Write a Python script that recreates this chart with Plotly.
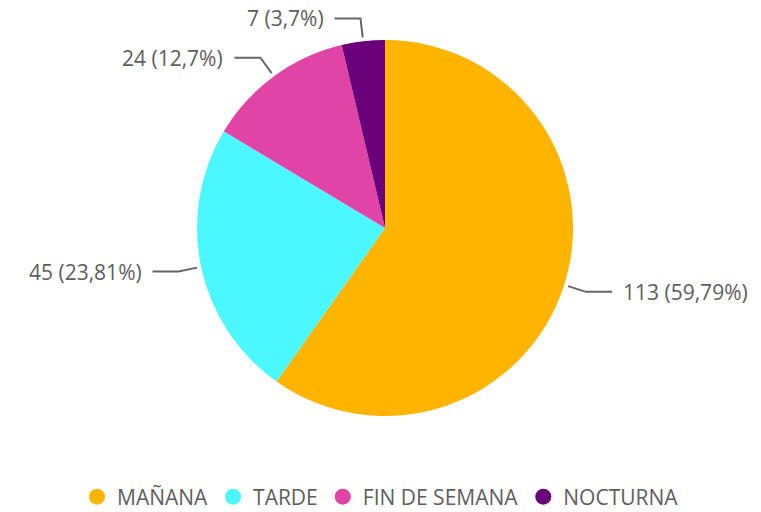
import math
import plotly.graph_objects as go

categories = ["MAÑANA", "TARDE", "FIN DE SEMANA", "NOCTURNA"]
values = [113, 45, 24, 7]
colors = ["#FFB400", "#4BF8FF", "#E044A7", "#6B007B"]

W, H = 761, 512
CX, CY, R = 385, 228, 188
FONT = "Open Sans, Segoe UI, sans-serif"
TXT = "#605E5C"
LINE = "#666666"

total = sum(values)


def fmt(v):
    p = f"{v / total * 100:.2f}".rstrip("0").rstrip(".")
    return f"{v} ({p.replace('.', ',')}%)"


fig = go.Figure()

fig.add_trace(go.Pie(
    labels=categories, values=values, sort=False, direction="clockwise",
    marker=dict(colors=colors, line=dict(width=0)), textinfo="none",
    showlegend=False, hoverinfo="label+value+percent",
    domain=dict(x=[(CX - R) / W, (CX + R) / W], y=[(H - CY - R) / H, (H - CY + R) / H]),
))

annotations = []
cum = 0
for cat, v in zip(categories, values):
    mid = (cum + v / 2) / total * 360
    cum += v
    th = math.radians(90 - mid)
    c, s = math.cos(th), math.sin(th)
    r1, r2 = R + 4, R + 23
    x1, y1 = CX + r1 * c, CY - r1 * s
    x2, y2 = CX + r2 * c, CY - r2 * s
    side = 1 if c >= 0 else -1
    x3 = x2 + side * 26
    fig.add_trace(go.Scatter(x=[x1, x2, x3], y=[y1, y2, y2], mode="lines",
                             line=dict(color=LINE, width=2), showlegend=False,
                             hoverinfo="skip"))
    annotations.append(dict(x=x3 + side * 9, y=y2, xref="x", yref="y", text=fmt(v),
                            showarrow=False, xanchor="left" if side > 0 else "right",
                            yanchor="middle", font=dict(size=21, color=TXT, family=FONT)))

for cat, col in zip(categories, colors):
    fig.add_trace(go.Scatter(x=[None], y=[None], mode="markers", name=cat,
                             marker=dict(size=20, color=col)))

fig.update_layout(
    width=W, height=H, margin=dict(l=0, r=0, t=0, b=0, autoexpand=False),
    paper_bgcolor="white", plot_bgcolor="white",
    xaxis=dict(range=[0, W], visible=False, fixedrange=True, domain=[0, 1]),
    yaxis=dict(range=[H, 0], visible=False, fixedrange=True, domain=[0, 1]),
    annotations=annotations,
    showlegend=True,
    legend=dict(orientation="h", x=0.5, xanchor="center", y=(H - 497) / H, yanchor="middle",
                font=dict(size=21, color=TXT, family=FONT), itemwidth=30,
                bgcolor="rgba(0,0,0,0)"),
    font=dict(family=FONT),
)

fig.write_html("out.html", config={"displayModeBar": False},
               post_script="document.body.style.margin='0px';")
